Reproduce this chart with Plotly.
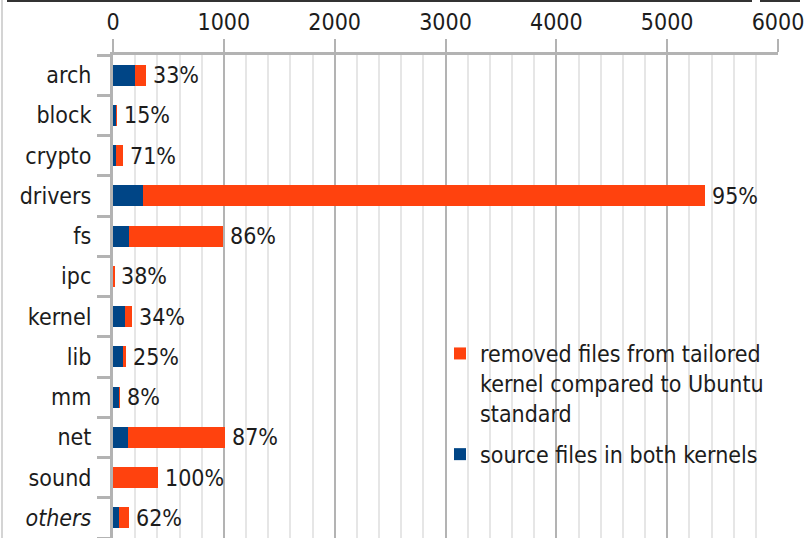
import plotly.graph_objects as go

categories = ["arch", "block", "crypto", "drivers", "fs", "ipc", "kernel",
              "lib", "mm", "net", "sound", "others"]
tick_labels = ["arch", "block", "crypto", "drivers", "fs", "ipc", "kernel",
               "lib", "mm", "net", "sound", "<i>others</i>"]
both_files = [200, 28, 27, 275, 140, 8, 112, 86, 55, 132, 0, 55]
removed_files = [98, 5, 66, 5070, 852, 5, 58, 29, 5, 881, 407, 90]
x_ticks = [0, 1000, 2000, 3000, 4000, 5000, 6000]

FONT = "DejaVu Sans Condensed, DejaVu Sans, sans-serif"
TXT = "#1c1c1c"
BLUE = "#004586"
ORANGE = "#ff420e"
MAJOR = "#b3b3b3"
MINOR = "#e6e6e6"

totals = [b + r for b, r in zip(both_files, removed_files)]
pcts = [f"{round(r / t * 100)}%" for r, t in zip(removed_files, totals)]

fig = go.Figure()
fig.add_trace(go.Bar(
    y=categories, x=both_files, orientation="h", name="source files in both kernels",
    marker=dict(color=BLUE, line=dict(width=0)), legendgroup="b", legendrank=2,
))
fig.add_trace(go.Bar(
    y=categories, x=removed_files, orientation="h",
    name="removed files from tailored<br>kernel compared to Ubuntu<br>standard",
    marker=dict(color=ORANGE, line=dict(width=0)), legendgroup="a", legendrank=1,
))

for c, t, p in zip(categories, totals, pcts):
    fig.add_annotation(x=t, y=c, text=p, showarrow=False, xanchor="left",
                       xshift=5, font=dict(family=FONT, size=23, color=TXT))

# frame remnants
def px_x(p):
    return (p - 113) / 665.0

def px_y(p):
    return 1 + (55 - p) / 483.0

fig.add_shape(type="line", xref="paper", yref="paper", x0=px_x(7), x1=px_x(752),
              y0=px_y(1), y1=px_y(1), line=dict(color="#333333", width=2))
fig.add_shape(type="line", xref="paper", yref="paper", x0=px_x(760), x1=px_x(800),
              y0=px_y(1), y1=px_y(1), line=dict(color="#333333", width=2))
fig.add_shape(type="line", xref="paper", yref="paper", x0=px_x(2), x1=px_x(2),
              y0=px_y(0), y1=px_y(540), line=dict(color="#d4d4d4", width=2))

fig.update_layout(
    width=812, height=538,
    margin=dict(l=113, r=34, t=55, b=0),
    barmode="stack", bargap=0.48,
    plot_bgcolor="white", paper_bgcolor="white",
    font=dict(family=FONT, size=23, color=TXT),
    showlegend=True,
    legend=dict(x=px_x(440), y=px_y(332), xanchor="left", yanchor="top",
                bgcolor="rgba(0,0,0,0)", traceorder="grouped",
                tracegroupgap=8, valign="top",
                font=dict(family=FONT, size=23, color=TXT)),
    xaxis=dict(
        side="top", range=[0, 6000], tickvals=x_ticks,
        ticktext=[str(v) for v in x_ticks],
        showgrid=True, gridcolor=MAJOR, gridwidth=2,
        minor=dict(dtick=200, showgrid=True, gridcolor=MINOR, gridwidth=2, ticks=""),
        showline=True, linecolor=MAJOR, linewidth=3,
        ticks="outside", ticklen=13, tickcolor=MAJOR, tickwidth=2,
        zeroline=False, tickfont=dict(family=FONT, size=23, color=TXT),
    ),
    yaxis=dict(
        categoryorder="array", categoryarray=categories,
        range=[11.5, -0.5], tickvals=categories, ticktext=tick_labels,
        tickson="boundaries", ticks="outside", ticklen=13, tickcolor=MAJOR,
        tickwidth=3, showline=True, linecolor=MAJOR, linewidth=3,
        showgrid=False, zeroline=False, ticklabelstandoff=14,
        tickfont=dict(family=FONT, size=23, color=TXT),
    ),
)

fig.write_html("out.html")
